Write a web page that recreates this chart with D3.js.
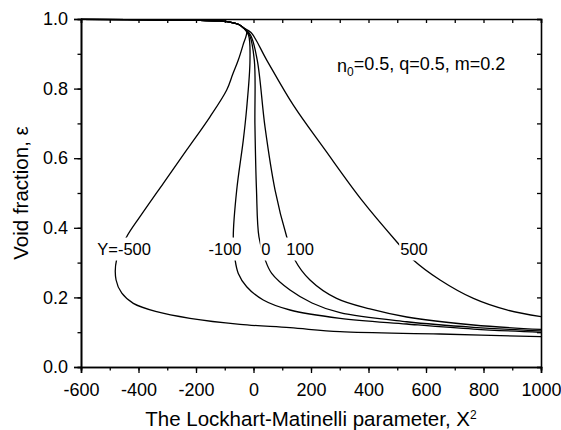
<!DOCTYPE html>
<html>
<head>
<meta charset="utf-8">
<script src="https://cdn.jsdelivr.net/npm/d3@7"></script>
<style>
  body { margin: 0; background: #fff; }
  svg { display: block; }
  text { font-family: "Liberation Sans", Arial, Helvetica, sans-serif; fill: #000; }
</style>
</head>
<body>
<svg id="chart" width="561" height="430"></svg>
<script>
// Axis ticks
const xTicks = [-600, -400, -200, 0, 200, 400, 600, 800, 1000];
const yTicks = [0.0, 0.2, 0.4, 0.6, 0.8, 1.0];
const tickLabelsX = ["-600", "-400", "-200", "0", "200", "400", "600", "800", "1000"];
const tickLabelsY = ["0.0", "0.2", "0.4", "0.6", "0.8", "1.0"];

// Curve names (parameter Y)
const curveNames = ["Y=-500", "-100", "0", "100", "500"];

// Branch shared by all curves at large negative X^2: [X^2, void fraction]
const sharedBranch = [[-600, 0.999], [-301, 0.997], [-186, 0.996], [-116.5, 0.9945], [-81.7, 0.991],
  [-52.9, 0.985], [-35.5, 0.975]];

// Individual curves after the shared branch
const curveYm500 = [[-23.7, 0.9635], [-36.5, 0.925], [-52.9, 0.882], [-72.3, 0.841], [-93.2, 0.796],
  [-151.3, 0.719], [-232.3, 0.6236], [-313.7, 0.528], [-394.8, 0.432], [-441, 0.3744], [-476, 0.3095],
  [-478, 0.250], [-458, 0.212], [-418, 0.183], [-337, 0.159], [-221, 0.140], [-47, 0.1227], [127, 0.113],
  [301, 0.1014], [649, 0.0948], [1000, 0.087]];
const curveYm100 = [[-17.4, 0.954], [-12.2, 0.882], [-24.3, 0.7385], [-35.5, 0.652], [-58.4, 0.5086],
  [-70.3, 0.3744], [-64.3, 0.3095], [-52.9, 0.269], [-23.7, 0.2307], [34, 0.1925], [127, 0.1638],
  [301, 0.140], [533, 0.1236], [765, 0.109], [1000, 0.0997]];
const curveY0 = [[-14, 0.954], [2.8, 0.882], [5, 0.695], [10.4, 0.5086], [19, 0.3736], [40, 0.3095],
  [63.3, 0.269], [127, 0.221], [203.5, 0.184], [301, 0.156], [533, 0.130], [765, 0.114], [1000, 0.104]];
const curveY100 = [[-10.4, 0.954], [13, 0.882], [40, 0.690], [75, 0.5086], [115.5, 0.3744], [144, 0.3075],
  [196.5, 0.250], [289, 0.197], [405, 0.1667], [533, 0.1437], [765, 0.1207], [1000, 0.108]];
const curveY500 = [[-8.7, 0.961], [46, 0.882], [138, 0.753], [249, 0.6236], [376, 0.480], [498, 0.360],
  [556, 0.3075], [649, 0.250], [765, 0.197], [881, 0.164], [1000, 0.1445]];

const curves = [curveYm500, curveYm100, curveY0, curveY100, curveY500];

// ---- drawing ----
const svg = d3.select("#chart");
const m = { left: 81, right: 20, top: 19, bottom: 63 };
const W = 561, H = 430;
const x = d3.scaleLinear().domain([-600, 1000]).range([m.left, W - m.right]);
const y = d3.scaleLinear().domain([0, 1]).range([H - m.bottom, m.top]);

const plotW = W - m.right - m.left;
const plotH = H - m.bottom - m.top;

// curves
const line = d3.line()
  .x(d => x(d[0]))
  .y(d => y(d[1]))
  .curve(d3.curveCatmullRom.alpha(0.5));

const gCurves = svg.append("g");
curves.forEach(c => {
  gCurves.append("path")
    .attr("d", line(sharedBranch.concat(c)))
    .attr("fill", "none")
    .attr("stroke", "#000")
    .attr("stroke-width", 1.3);
});

// inline curve labels, breaking the curves where they sit
const labelAnchors = [[-450, 0.339], [-99, 0.339], [43, 0.339], [162, 0.339], [558, 0.339]];
const gLabels = svg.append("g");
curveNames.forEach((name, i) => {
  const g = gLabels.append("g")
    .attr("transform", `translate(${x(labelAnchors[i][0])},${y(labelAnchors[i][1])})`);
  const t = g.append("text")
    .attr("text-anchor", "middle")
    .attr("dy", "0.36em")
    .style("font-size", "16.5px")
    .text(name);
  const bb = t.node().getBBox();
  g.insert("rect", "text")
    .attr("x", bb.x - 1)
    .attr("y", -11.5)
    .attr("width", bb.width + 2)
    .attr("height", 23)
    .attr("fill", "#fff");
});

// axes
const fontTick = "18px";
const xMinor = d3.range(-600, 1001, 100);
const yMinor = d3.range(0, 1.0001, 0.1);

const axB = d3.axisBottom(x).tickValues(xTicks).tickSize(6).tickPadding(10).tickFormat((d, i) => tickLabelsX[i]);
const axBm = d3.axisBottom(x).tickValues(xMinor).tickSize(3.5).tickFormat("");
const axL = d3.axisLeft(y).tickValues(yTicks).tickSize(7).tickPadding(6).tickFormat((d, i) => tickLabelsY[i]);
const axLm = d3.axisLeft(y).tickValues(yMinor).tickSize(3.5).tickFormat("");
const axT = d3.axisTop(x).tickValues(xMinor).tickSize(-4).tickFormat("");
const axR = d3.axisRight(y).tickValues(yMinor).tickSize(-4).tickFormat("");

function styleAxis(g) {
  g.select(".domain").attr("stroke", "#000").attr("stroke-width", 1.6);
  g.selectAll(".tick line").attr("stroke", "#000").attr("stroke-width", 1.3);
  g.selectAll(".tick text").style("font-size", fontTick).style("font-family", "'Liberation Sans', Arial, sans-serif").attr("fill", "#000");
}

svg.append("g").attr("transform", `translate(0,${H - m.bottom})`).call(axBm).call(styleAxis);
svg.append("g").attr("transform", `translate(0,${H - m.bottom})`).call(axB).call(styleAxis);
svg.append("g").attr("transform", `translate(${m.left},0)`).call(axLm).call(styleAxis);
svg.append("g").attr("transform", `translate(${m.left},0)`).call(axL).call(styleAxis);
svg.append("g").attr("transform", `translate(0,${m.top})`).call(axT).call(styleAxis);
svg.append("g").attr("transform", `translate(${W - m.right},0)`).call(axR).call(styleAxis);

// axis titles
const xt = svg.append("text")
  .attr("x", m.left + plotW / 2)
  .attr("y", 426)
  .attr("text-anchor", "middle")
  .style("font-size", "20.5px");
xt.append("tspan").text("The Lockhart-Matinelli parameter, X");
xt.append("tspan").attr("dy", "-0.6em").style("font-size", "12px").text("2");

svg.append("text")
  .attr("transform", `translate(28,${m.top + plotH / 2}) rotate(-90)`)
  .attr("text-anchor", "middle")
  .style("font-size", "20.5px")
  .text("Void fraction, \u03B5");

// parameter note
const note = svg.append("text")
  .attr("x", 337)
  .attr("y", 72)
  .style("font-size", "18px");
note.append("tspan").text("n");
note.append("tspan").attr("dy", "0.3em").style("font-size", "12px").text("0");
note.append("tspan").attr("dy", "-0.3em").text("=0.5, q=0.5, m=0.2");
</script>
</body>
</html>
